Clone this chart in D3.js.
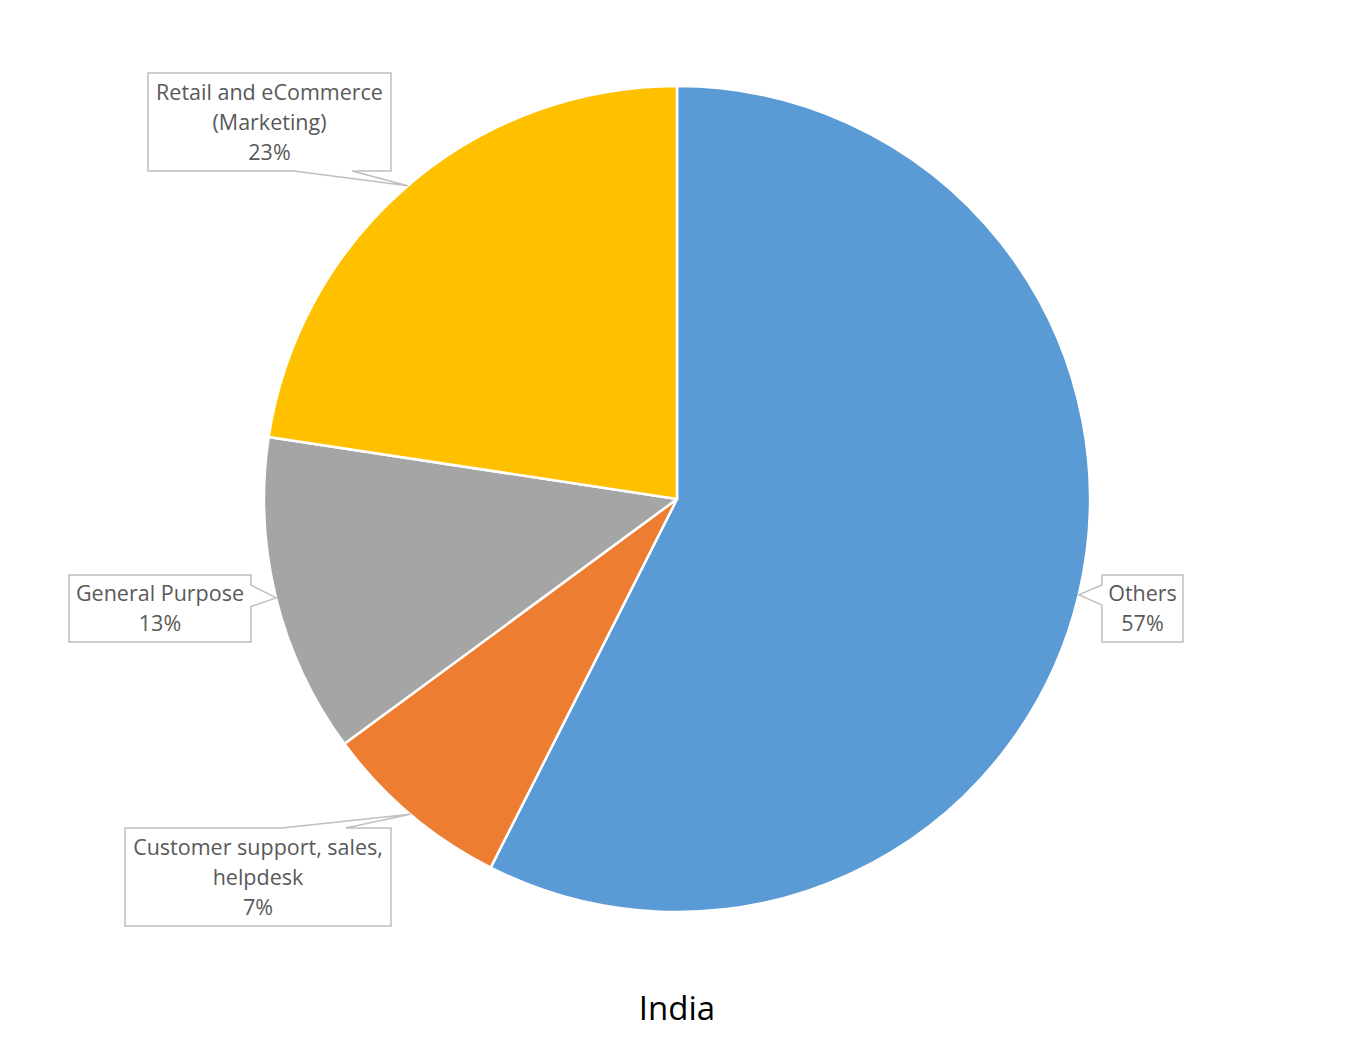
<!DOCTYPE html>
<html>
<head>
<meta charset="utf-8">
<script src="https://cdn.jsdelivr.net/npm/d3@7"></script>
<style>
  html, body { margin: 0; padding: 0; background: #fff; }
  svg { display: block; }
</style>
</head>
<body>
<svg id="chart" width="1355" height="1054"></svg>
<script>
// ---- data ----
const categories = ["Others", "Customer support, sales, helpdesk", "General Purpose", "Retail and eCommerce (Marketing)"];
const values = [57.45, 7.45, 12.5, 22.6];
const labelLines = [["Others"], ["Customer support, sales,", "helpdesk"], ["General Purpose"], ["Retail and eCommerce", "(Marketing)"]];
const colors = ["#5B9BD5", "#ED7D31", "#A5A5A5", "#FFC000"];
const title = "India";

// ---- layout (label boxes: centre x, centre y, width, height, edge that points to slice) ----
const boxLayout = [
  { cx: 1142.5, cy: 608.5, w: 81,  h: 67, edge: "left" },
  { cx: 258,    cy: 877,   w: 266, h: 98, edge: "top" },
  { cx: 160,    cy: 608.5, w: 182, h: 67, edge: "right" },
  { cx: 269.5,  cy: 122,   w: 243, h: 98, edge: "bottom" }
];

const W = 1355, H = 1054;
const cx = 677, cy = 499, R = 413;
const svg = d3.select("#chart");

const total = d3.sum(values);
const pie = d3.pie().sort(null).value(d => d)(values);
const arc = d3.arc().innerRadius(0).outerRadius(R);

const g = svg.append("g").attr("transform", `translate(${cx},${cy})`);
g.selectAll("path.slice").data(pie).enter().append("path")
  .attr("class", "slice")
  .attr("d", arc)
  .attr("fill", (d, i) => colors[i])
  .attr("stroke", "#fff")
  .attr("stroke-width", 2.5)
  .attr("stroke-linejoin", "round");

// callouts
const font = "'Open Sans', 'Segoe UI', sans-serif";
pie.forEach((d, i) => {
  const mid = (d.startAngle + d.endAngle) / 2;
  const tx = cx + R * Math.sin(mid);
  const ty = cy - R * Math.cos(mid);
  const b = boxLayout[i];
  const x0 = b.cx - b.w / 2, x1 = b.cx + b.w / 2, y0 = b.cy - b.h / 2, y1 = b.cy + b.h / 2;
  let pts;
  if (b.edge === "bottom") {
    const a = tx > b.cx ? x0 + 0.6 * b.w : x0 + 0.16 * b.w;
    const c = tx > b.cx ? x0 + 0.84 * b.w : x0 + 0.4 * b.w;
    pts = [[x0, y0], [x1, y0], [x1, y1], [c, y1], [tx, ty], [a, y1], [x0, y1]];
  } else if (b.edge === "top") {
    const a = tx > b.cx ? x0 + 0.59 * b.w : x0 + 0.17 * b.w;
    const c = tx > b.cx ? x0 + 0.83 * b.w : x0 + 0.41 * b.w;
    pts = [[x0, y0], [a, y0], [tx, ty], [c, y0], [x1, y0], [x1, y1], [x0, y1]];
  } else if (b.edge === "right") {
    const a = y0 + 0.15 * b.h, c = y0 + 0.47 * b.h;
    pts = [[x0, y0], [x1, y0], [x1, a], [tx, ty], [x1, c], [x1, y1], [x0, y1]];
  } else {
    const a = y0 + 0.15 * b.h, c = y0 + 0.45 * b.h;
    pts = [[x0, y0], [x1, y0], [x1, y1], [x0, y1], [x0, c], [tx, ty], [x0, a]];
  }
  svg.append("path")
    .attr("d", d3.line()(pts) + "Z")
    .attr("fill", "#fff")
    .attr("stroke", "#BFBFBF")
    .attr("stroke-width", 1.5);

  const lines = labelLines[i].concat([Math.round(values[i] / total * 100) + "%"]);
  const lh = 30;
  const startY = b.cy - (lines.length - 1) * lh / 2;
  const t = svg.append("text")
    .attr("text-anchor", "middle")
    .attr("font-family", font)
    .attr("font-size", 21.5)
    .attr("fill", "#595959");
  lines.forEach((ln, k) => {
    t.append("tspan")
      .attr("x", b.cx)
      .attr("y", startY + k * lh)
      .attr("dy", "0.35em")
      .text(ln);
  });
});

svg.append("text")
  .attr("x", cx)
  .attr("y", 1020)
  .attr("text-anchor", "middle")
  .attr("font-family", font)
  .attr("font-size", 33)
  .attr("fill", "#000")
  .text(title);
</script>
</body>
</html>
